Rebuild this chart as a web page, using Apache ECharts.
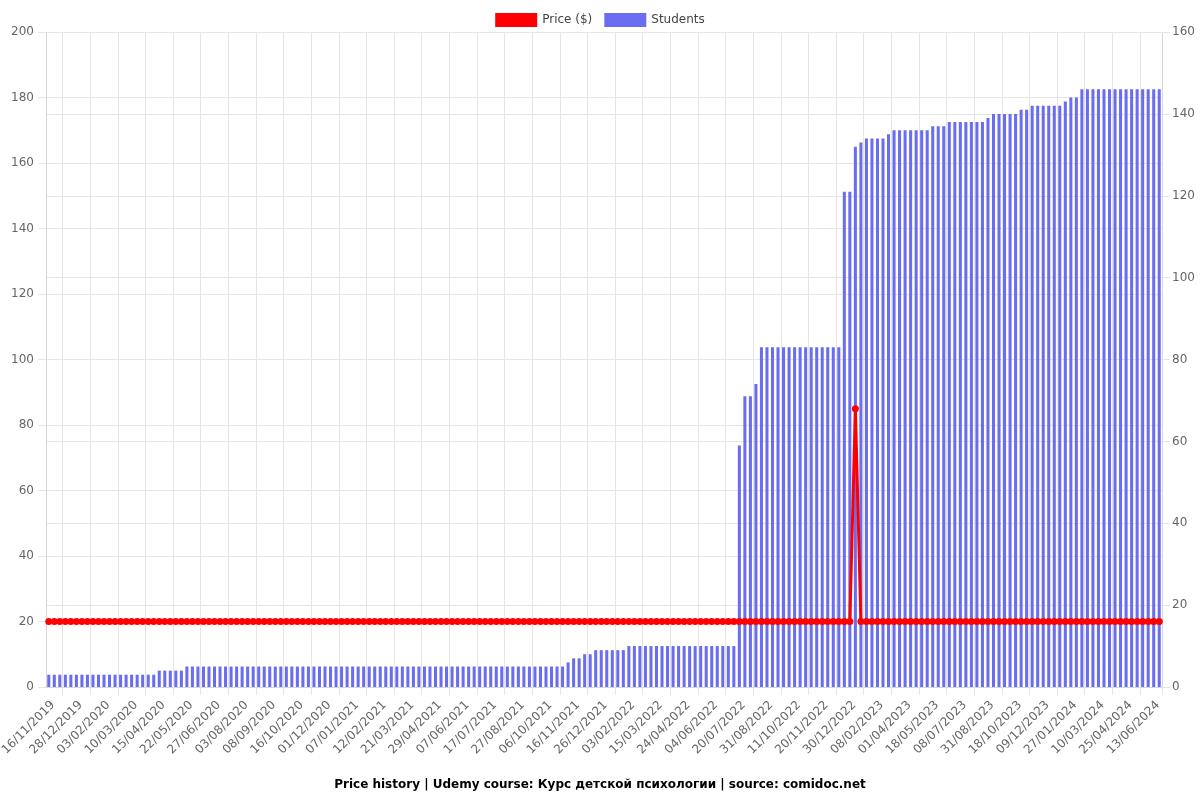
<!DOCTYPE html>
<html>
<head>
<meta charset="utf-8">
<script src="https://cdn.jsdelivr.net/npm/echarts@6/dist/echarts.min.js"></script>
<style>
html,body{margin:0;padding:0;background:#fff;}
#chart{width:1200px;height:800px;}
</style>
</head>
<body>
<div id="chart"></div>
<script>
// Tick labels shown on the x axis (every 5th category)
const tickLabels = ['16/11/2019','28/12/2019','03/02/2020','10/03/2020','15/04/2020','22/05/2020','27/06/2020','03/08/2020','08/09/2020','16/10/2020','01/12/2020','07/01/2021','12/02/2021','21/03/2021','29/04/2021','07/06/2021','17/07/2021','27/08/2021','06/10/2021','16/11/2021','26/12/2021','03/02/2022','15/03/2022','24/04/2022','04/06/2022','20/07/2022','31/08/2022','11/10/2022','20/11/2022','30/12/2022','08/02/2023','01/04/2023','18/05/2023','08/07/2023','31/08/2023','18/10/2023','09/12/2023','27/01/2024','10/03/2024','25/04/2024','13/06/2024'];
const lastDate = '22/06/2024';

// Price ($) per category (rows of 20)
const price = [
20,20,20,20,20,20,20,20,20,20,20,20,20,20,20,20,20,20,20,20,
20,20,20,20,20,20,20,20,20,20,20,20,20,20,20,20,20,20,20,20,
20,20,20,20,20,20,20,20,20,20,20,20,20,20,20,20,20,20,20,20,
20,20,20,20,20,20,20,20,20,20,20,20,20,20,20,20,20,20,20,20,
20,20,20,20,20,20,20,20,20,20,20,20,20,20,20,20,20,20,20,20,
20,20,20,20,20,20,20,20,20,20,20,20,20,20,20,20,20,20,20,20,
20,20,20,20,20,20,20,20,20,20,20,20,20,20,20,20,20,20,20,20,
20,20,20,20,20,20,85,20,20,20,20,20,20,20,20,20,20,20,20,20,
20,20,20,20,20,20,20,20,20,20,20,20,20,20,20,20,20,20,20,20,
20,20,20,20,20,20,20,20,20,20,20,20,20,20,20,20,20,20,20,20,
20,20
];

// Students per category (rows of 10)
const students = [
3,3,3,3,3,3,3,3,3,3, 3,3,3,3,3,3,3,3,3,3,
4,4,4,4,4,5,5,5,5,5, 5,5,5,5,5,5,5,5,5,5,
5,5,5,5,5,5,5,5,5,5, 5,5,5,5,5,5,5,5,5,5,
5,5,5,5,5,5,5,5,5,5, 5,5,5,5,5,5,5,5,5,5,
5,5,5,5,5,5,5,5,5,5, 5,5,5,5,6,7,7,8,8,9,
9,9,9,9,9,10,10,10,10,10, 10,10,10,10,10,10,10,10,10,10,
10,10,10,10,10,59,71,71,74,83, 83,83,83,83,83,83,83,83,83,83,
83,83,83,83,121,121,132,133,134,134, 134,134,135,136,136,136,136,136,136,136,
137,137,137,138,138,138,138,138,138,138, 139,140,140,140,140,140,141,141,142,142,
142,142,142,142,143,144,144,146,146,146, 146,146,146,146,146,146,146,146,146,146,
146,146
];

function parseD(s){const p=s.split('/');return Date.UTC(+p[2],+p[1]-1,+p[0]);}
function fmtD(t){const d=new Date(t);const z=n=>(n<10?'0':'')+n;return z(d.getUTCDate())+'/'+z(d.getUTCMonth()+1)+'/'+d.getUTCFullYear();}
// Category names: shown tick labels, plus hidden in-between dates
const anchors = tickLabels.concat([lastDate]);
const categories = [];
for (let i = 0; i < students.length; i++) {
  const k = Math.floor(i / 5), r = i % 5;
  if (r === 0) { categories.push(tickLabels[k]); continue; }
  const a = parseD(anchors[k]);
  const b = parseD(anchors[Math.min(k + 1, anchors.length - 1)]);
  const span = (k + 1 < tickLabels.length) ? 5 : 1;
  categories.push(fmtD(a + Math.round((b - a) * r / span / 86400000) * 86400000));
}

const gridColor = '#e5e5e5';
const font = 'DejaVu Sans';
const chart = echarts.init(document.getElementById('chart'), null, {renderer: 'canvas'});
chart.setOption({
  animation: false,
  textStyle: {fontFamily: font},
  title: {
    text: 'Price history | Udemy course: Курс детской психологии | source: comidoc.net',
    left: 'center', bottom: 4,
    textStyle: {fontFamily: font, fontSize: 12, fontWeight: 'bold', color: '#000'}
  },
  legend: {
    top: 8, left: 'center', itemWidth: 42, itemHeight: 14, itemGap: 12,
    textStyle: {fontFamily: font, fontSize: 12, color: '#444'},
    data: [
      {name: 'Price ($)', icon: 'rect', itemStyle: {color: '#ff0000'}},
      {name: 'Students', icon: 'rect', itemStyle: {color: '#6a6df0'}}
    ]
  },
  grid: {left: 46, right: 38, top: 32, bottom: 113, containLabel: false, outerBoundsMode: 'none'},
  xAxis: {
    type: 'category',
    data: categories,
    boundaryGap: true,
    axisLine: {show: true, lineStyle: {color: '#d6d6d6'}},
    axisTick: {show: true, length: 8, lineStyle: {color: gridColor}, interval: (i) => i % 5 === 3},
    splitLine: {show: true, lineStyle: {color: gridColor}, interval: (i) => i % 5 === 3},
    axisLabel: {interval: 4, rotate: 45, margin: 12, verticalAlign: 'top', fontFamily: font, fontSize: 12, color: '#666'}
  },
  yAxis: [
    {
      type: 'value', min: 0, max: 200, interval: 20, position: 'left',
      axisLine: {show: true, lineStyle: {color: '#d6d6d6'}},
      axisTick: {show: true, length: 8, lineStyle: {color: gridColor}},
      splitLine: {show: true, lineStyle: {color: gridColor}},
      axisLabel: {margin: 12, fontFamily: font, fontSize: 12, color: '#666'}
    },
    {
      type: 'value', min: 0, max: 160, interval: 20, position: 'right',
      axisLine: {show: true, lineStyle: {color: '#d6d6d6'}},
      axisTick: {show: true, length: 8, lineStyle: {color: gridColor}},
      splitLine: {show: true, lineStyle: {color: gridColor}},
      axisLabel: {margin: 10, fontFamily: font, fontSize: 12, color: '#666'}
    }
  ],
  series: [
    {
      name: 'Price ($)', type: 'line', yAxisIndex: 0, data: price, z: 5,
      symbol: 'circle', symbolSize: 7, showAllSymbol: true,
      lineStyle: {color: '#ff0000', width: 3},
      itemStyle: {color: '#ff0000'}
    },
    {
      name: 'Students', type: 'bar', yAxisIndex: 1, data: students, z: 2,
      barWidth: '55%',
      itemStyle: {color: '#6a6df0'}
    }
  ]
});
</script>
</body>
</html>
